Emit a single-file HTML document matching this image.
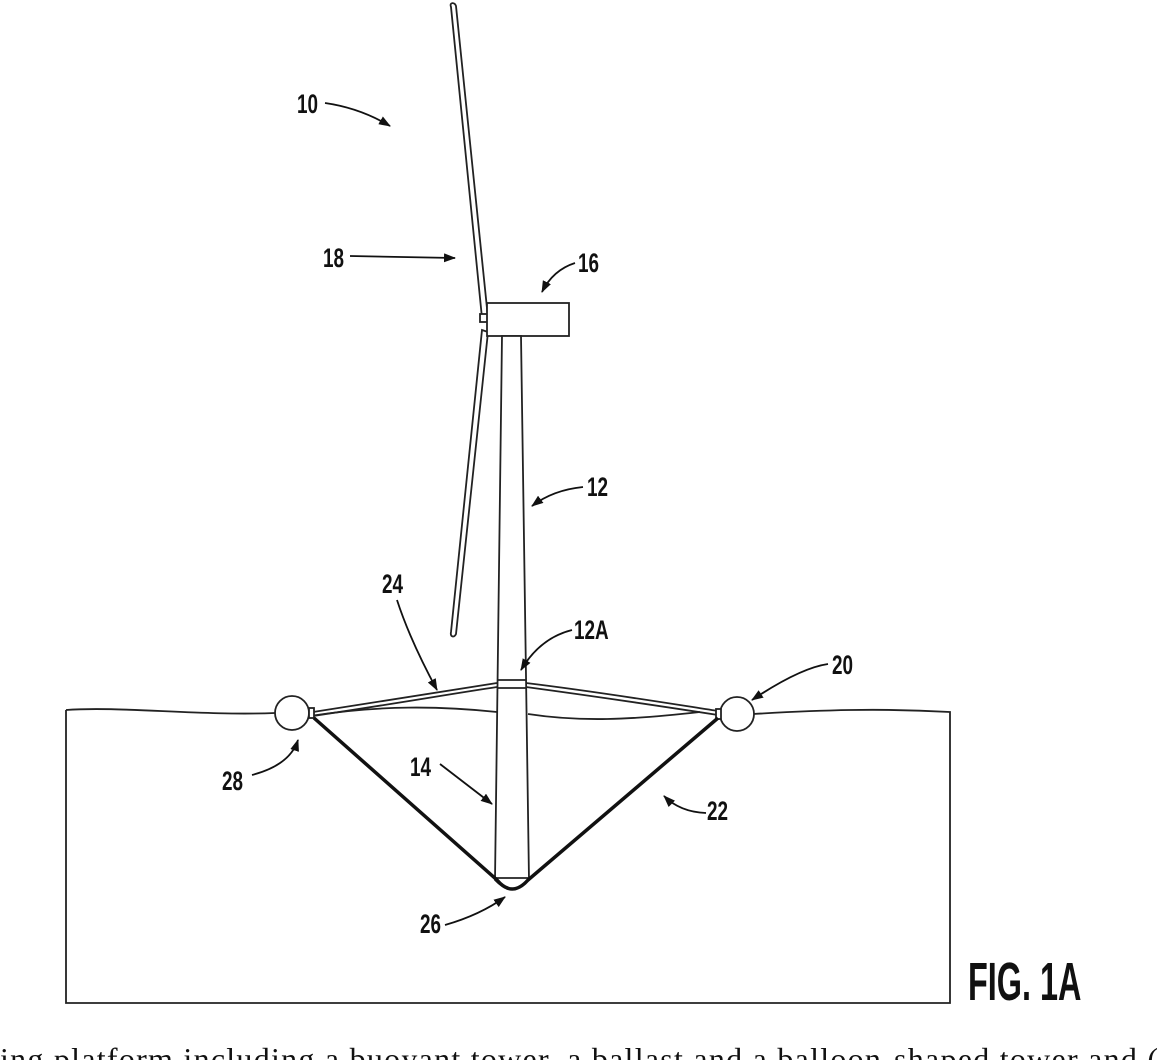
<!DOCTYPE html>
<html><head><meta charset="utf-8"><style>
html,body{margin:0;padding:0;background:#fff;width:1158px;height:1060px;overflow:hidden}
svg{display:block}
.l{font-family:"Liberation Sans",sans-serif;font-weight:bold;font-size:27px;fill:#111}
</style></head><body>
<svg width="1158" height="1060" viewBox="0 0 1158 1060" xmlns="http://www.w3.org/2000/svg">
<defs><marker id="a" markerWidth="12" markerHeight="9" refX="11" refY="4.5" orient="auto" markerUnits="userSpaceOnUse"><path d="M0,0 L12,4.5 L0,9 Z" fill="#111"/></marker></defs>
<g fill="none" stroke="#222" stroke-width="1.8">
<path d="M66,710 C120,706 200,716 275,713"/>
<path d="M753,714 C820,710 880,708 950,712 L950,1003 L66,1003 L66,710"/>
<path d="M310,716 C380,705 440,706 497,712"/>
<path d="M528,714 C580,722 630,720 700,712"/>
<path d="M451,7 C449,2 455,2 456,6 L488,318 L482,318 Z" fill="#fff"/>
<path d="M482,330 L488,332 L456,634 C454,638 450,637 451,632 Z" fill="#fff"/>
<rect x="480" y="314" width="8" height="8" fill="#fff"/>
<rect x="487" y="303" width="82" height="33" fill="#fff"/>
<path d="M502,336 L495,880 Q512,898 529,880 L521,336 Z" fill="#fff"/>
<line x1="497" y1="680" x2="526" y2="680"/>
<line x1="497" y1="688" x2="526" y2="688"/>
<line x1="496" y1="878" x2="528" y2="878"/>
<path d="M313,712 C400,698 450,690 497,683 M313,716 C400,703 450,694 497,687"/>
<path d="M526,683 C600,692 660,702 718,711 M526,687 C600,697 660,706 718,715"/>
<circle cx="292" cy="713" r="17" fill="#fff"/>
<circle cx="737" cy="714" r="17" fill="#fff"/>
<rect x="309" y="708" width="5" height="10" fill="#fff"/>
<rect x="716" y="709" width="5" height="10" fill="#fff"/>
</g>
<path d="M314,718 L497,880 Q512,898 528,880 L718,718" fill="none" stroke="#111" stroke-width="3.5"/>
<g fill="none" stroke="#111" stroke-width="1.8" marker-end="url(#a)">
<path d="M325,103 Q360,108 390,126"/>
<path d="M350,256 L455,258"/>
<path d="M575,263 Q553,270 542,292"/>
<path d="M583,487 Q553,490 532,506"/>
<path d="M572,630 Q540,638 521,670"/>
<path d="M397,600 Q410,640 437,690"/>
<path d="M828,664 Q800,668 752,700"/>
<path d="M252,775 Q290,765 298,740"/>
<path d="M440,764 L492,804"/>
<path d="M706,813 Q680,812 664,796"/>
<path d="M445,925 Q480,915 505,897"/>
</g>
<g class="l">
<text x="297" y="113" transform="translate(297 0) scale(0.7 1) translate(-297 0)">10</text>
<text x="323" y="267" transform="translate(323 0) scale(0.7 1) translate(-323 0)">18</text>
<text x="578" y="272" transform="translate(578 0) scale(0.7 1) translate(-578 0)">16</text>
<text x="587" y="496" transform="translate(587 0) scale(0.7 1) translate(-587 0)">12</text>
<text x="574" y="639" transform="translate(574 0) scale(0.7 1) translate(-574 0)">12A</text>
<text x="382" y="593" transform="translate(382 0) scale(0.7 1) translate(-382 0)">24</text>
<text x="832" y="674" transform="translate(832 0) scale(0.7 1) translate(-832 0)">20</text>
<text x="222" y="790" transform="translate(222 0) scale(0.7 1) translate(-222 0)">28</text>
<text x="410" y="776" transform="translate(410 0) scale(0.7 1) translate(-410 0)">14</text>
<text x="707" y="820" transform="translate(707 0) scale(0.7 1) translate(-707 0)">22</text>
<text x="420" y="933" transform="translate(420 0) scale(0.7 1) translate(-420 0)">26</text>
<text x="968" y="1000" style="font-size:54px" transform="translate(968 0) scale(0.6 1) translate(-968 0)">FIG. 1A</text>
</g>
<text x="0" y="1070" textLength="1158" lengthAdjust="spacing" style="font-family:'Liberation Serif',serif;font-size:32px;fill:#111">ing platform including a buoyant tower, a ballast and a balloon-shaped tower and (</text>
</svg>
</body></html>
